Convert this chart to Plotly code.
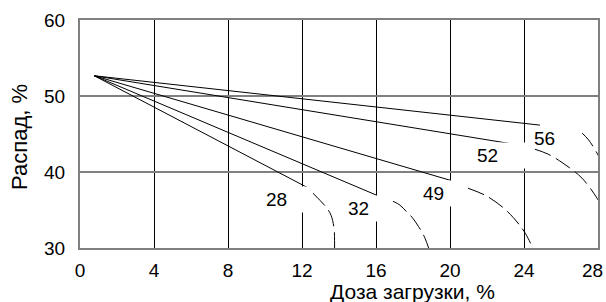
import plotly.graph_objects as go

# --- data ---
start_x, start_y = 0.77, 52.66
series_labels = ["28", "32", "49", "52", "56"]
end_x = [12.29, 16.04, 20.00, 23.78, 24.86]
end_y = [37.96, 36.94, 38.92, 43.53, 46.17]

arc28_x = [12.59, 12.97, 13.35, 13.57, 13.73, 13.76, 13.76]
arc28_y = [37.21, 36.28, 35.23, 34.31, 32.60, 31.01, 29.90]
arc32_x = [16.92, 17.30, 17.68, 17.95, 18.49, 18.65, 18.86]
arc32_y = [36.15, 35.63, 34.70, 34.04, 32.07, 31.28, 29.90]
arc49_x = [20.97, 22.00, 23.03, 23.89, 24.22, 24.49]
arc49_y = [37.87, 36.81, 34.97, 32.60, 31.28, 29.90]
arc52_x = [24.59, 25.30, 26.11, 27.14, 27.95, 28.38]
arc52_y = [43.00, 42.35, 41.16, 39.18, 36.55, 34.70]
arc56_x = [27.14, 27.46, 27.95, 28.27]
arc56_y = [45.11, 44.32, 42.48, 40.90]

label_x = [11.30, 15.52, 19.49, 22.96, 25.12]
label_y = [36.35, 35.25, 37.20, 42.15, 44.40]

x_ticks = [0, 4, 8, 12, 16, 20, 24, 28]
x_ticklabels = ["0", "4", "8", "12", "16", "20", "24", "28"]
y_ticks = [30, 40, 50, 60]
x_title = "Доза загрузки, %"
y_title = "Распад, %"

FONT = "Liberation Sans, Arial, sans-serif"

fig = go.Figure()

for ex, ey in zip(end_x, end_y):
    fig.add_trace(go.Scatter(x=[start_x, ex], y=[start_y, ey], mode="lines",
                             line=dict(color="black", width=1), hoverinfo="skip"))

for ax_, ay_ in [(arc28_x, arc28_y), (arc32_x, arc32_y), (arc49_x, arc49_y),
                 (arc52_x, arc52_y), (arc56_x, arc56_y)]:
    fig.add_trace(go.Scatter(x=ax_, y=ay_, mode="lines", line_shape="spline",
                             line=dict(color="black", width=1, dash="17px,6px"),
                             hoverinfo="skip"))

# label boxes (white background hides grid lines behind labels)
box_w = [46, 38, 35, 56, None]
for i, t in enumerate(series_labels):
    kw = dict(x=label_x[i], y=label_y[i], text=t, showarrow=False,
              font=dict(family=FONT, size=19, color="black"), borderpad=0)
    if box_w[i]:
        kw.update(bgcolor="white", width=box_w[i], height=25, align="left")
    fig.add_annotation(**kw)

# last x tick label drawn as text nudged inside the page so it is not cut off
fig.add_annotation(text=x_ticklabels[-1], x=x_ticks[-1], xref="x", yref="paper",
                   y=-0.1, yanchor="middle", xshift=-6, showarrow=False,
                   font=dict(family=FONT, size=19, color="black"))

fig.add_annotation(text=x_title, xref="paper", yref="paper", x=0.641, y=-0.248,
                   showarrow=False, font=dict(family=FONT, size=21, color="black"))
fig.add_annotation(text=y_title, xref="paper", yref="paper", x=-0.145, y=0.489,
                   showarrow=False, textangle=-90,
                   font=dict(family=FONT, size=22, color="black"))

fig.update_layout(
    width=606, height=302,
    margin=dict(l=80, r=8, t=20, b=54, autoexpand=False),
    paper_bgcolor="white", plot_bgcolor="white",
    showlegend=False,
    font=dict(family=FONT, size=19, color="black"),
    xaxis=dict(range=[0, 28], tickvals=x_ticks,
               ticktext=x_ticklabels[:-1] + [""],
               showgrid=True, gridcolor="black", gridwidth=1,
               showline=True, mirror=True, linecolor="#808080", linewidth=2,
               ticks="outside", ticklen=4, tickcolor="rgba(0,0,0,0)",
               ticklabeloverflow="allow", automargin=False,
               zeroline=False, tickfont=dict(family=FONT, size=19, color="black")),
    yaxis=dict(range=[30, 60], tickvals=y_ticks, ticktext=[str(v) for v in y_ticks],
               showgrid=True, gridcolor="#808080", gridwidth=2,
               showline=True, mirror=True, linecolor="#808080", linewidth=2,
               ticks="outside", ticklen=9, tickcolor="rgba(0,0,0,0)",
               automargin=False,
               zeroline=False, tickfont=dict(family=FONT, size=19, color="black")),
)

fig.write_html("out.html", config={"displayModeBar": False},
               post_script="document.body.style.margin='0';document.body.style.overflow='hidden';")
